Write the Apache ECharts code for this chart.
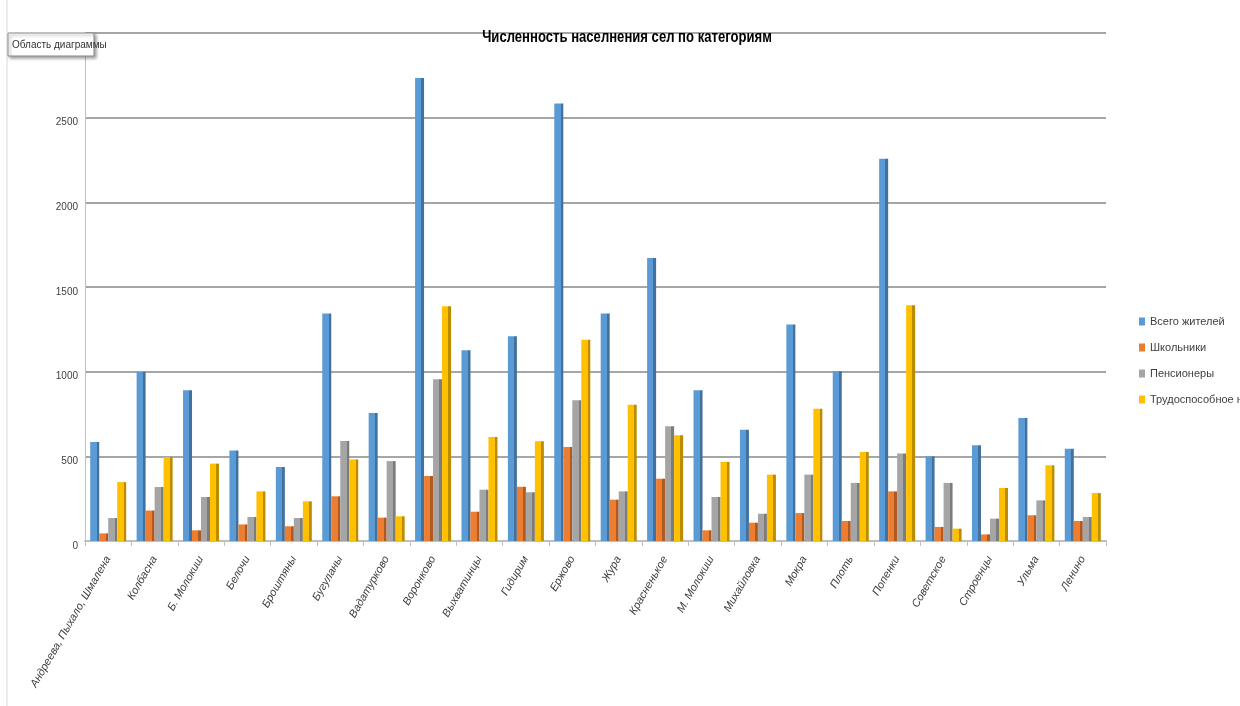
<!DOCTYPE html>
<html>
<head>
<meta charset="utf-8">
<script src="https://cdn.jsdelivr.net/npm/echarts@6/dist/echarts.min.js"></script>
<style>
html,body{margin:0;padding:0;background:#fff;}
#chart{width:1240px;height:706px;}
</style>
</head>
<body>
<div id="chart"></div>
<script>
const categories = ["Андреева, Пыхало, Шмалена","Колбасна","Б. Молокиш","Белочи","Броштяны","Бугуланы","Вадатурково","Воронково","Выхватинцы","Гидирим","Ержово","Жура","Красненькое","М. Молокиш","Михайловка","Мокра","Плоть","Попенки","Советское","Строенцы","Ульма","Ленино"];
const seriesNames = ["Всего жителей","Школьники","Пенсионеры","Трудоспособное население"];
const totalResidents = [585, 1000, 890, 535, 437, 1343, 756, 2734, 1126, 1209, 2583, 1343, 1671, 890, 657, 1278, 1002, 2258, 500, 565, 726, 545];
const schoolchildren = [45, 180, 63, 98, 87, 264, 138, 384, 173, 320, 555, 244, 368, 63, 108, 165, 118, 293, 83, 39, 152, 118];
const pensioners = [136, 319, 260, 142, 136, 590, 472, 955, 303, 288, 831, 293, 677, 260, 161, 392, 343, 516, 343, 132, 240, 142];
const workingAge = [348, 496, 457, 293, 234, 482, 146, 1386, 614, 589, 1189, 805, 624, 467, 392, 781, 526, 1392, 73, 313, 447, 283];
const yTicks = {min: 0, max: 3000, interval: 500};
const titleText = 'Численность населнения сел по категориям';

const colors = ['#5B9BD5', '#ED7D31', '#A5A5A5', '#FFC000'];
const darks = ['#41719C', '#AE5A21', '#7C7C7C', '#BC8C00'];
const FONT = '"Liberation Sans", "DejaVu Sans", sans-serif';

function barStyle(i) {
  return {
    color: {
      type: 'linear', x: 0, y: 0, x2: 1, y2: 0,
      colorStops: [
        {offset: 0, color: colors[i]},
        {offset: 0.7, color: colors[i]},
        {offset: 0.7, color: darks[i]},
        {offset: 1, color: darks[i]}
      ]
    }
  };
}

const allData = [totalResidents, schoolchildren, pensioners, workingAge];
const chart = echarts.init(document.getElementById('chart'));
chart.setOption({
  animation: false,
  backgroundColor: '#ffffff',
  color: colors,
  legend: {
    orient: 'vertical',
    left: 1134, top: 311,
    icon: 'rect', itemWidth: 6, itemHeight: 8, itemGap: 15,
    textStyle: {fontFamily: FONT, fontSize: 11, color: '#404040'},
    data: seriesNames.map((n, i) => ({name: n, itemStyle: {color: colors[i]}}))
  },
  grid: {left: 85, right: 134, top: 33, bottom: 165},
  xAxis: {
    type: 'category',
    data: categories,
    axisLine: {lineStyle: {color: '#BFBFBF', width: 2}},
    axisTick: {show: true, length: 5, lineStyle: {color: '#BFBFBF'}},
    axisLabel: {
      rotate: 60, interval: 0, margin: 16,
      fontFamily: FONT, fontSize: 11, fontStyle: 'italic', color: '#404040'
    }
  },
  yAxis: {
    type: 'value',
    min: yTicks.min, max: yTicks.max, interval: yTicks.interval,
    axisLine: {show: true, lineStyle: {color: '#BFBFBF', width: 1}},
    axisTick: {show: false},
    axisLabel: {
      fontFamily: FONT, fontSize: 10, color: '#404040', margin: 7,
      formatter: v => String(v), verticalAlign: 'top', showMaxLabel: false
    },
    splitLine: {lineStyle: {color: '#A6A6A6', width: 2}}
  },
  series: seriesNames.map((n, i) => ({
    name: n,
    type: 'bar',
    data: allData[i],
    barWidth: 9,
    barGap: '0%',
    itemStyle: barStyle(i)
  })),
  graphic: [
    {type: 'text', x: 627, y: 37, scaleX: 0.77, z: 102,
     style: {text: titleText, font: 'bold 17px ' + FONT, fill: '#000', align: 'center', verticalAlign: 'middle'}},
    {type: 'line', shape: {x1: 7, y1: 0, x2: 7, y2: 706}, style: {stroke: '#D9D9D9', lineWidth: 1}, z: 100},
    {type: 'rect', shape: {x: 8, y: 33, width: 86, height: 23}, z: 100,
     style: {fill: '#ffffff', stroke: '#8C8C8C', lineWidth: 1, shadowBlur: 3, shadowOffsetX: 2, shadowOffsetY: 2, shadowColor: 'rgba(0,0,0,0.35)'}},
    {type: 'text', x: 12, y: 45, z: 101,
     style: {text: 'Область диаграммы', font: '10px ' + FONT, fill: '#333', verticalAlign: 'middle'}}
  ]
});
</script>
</body>
</html>
